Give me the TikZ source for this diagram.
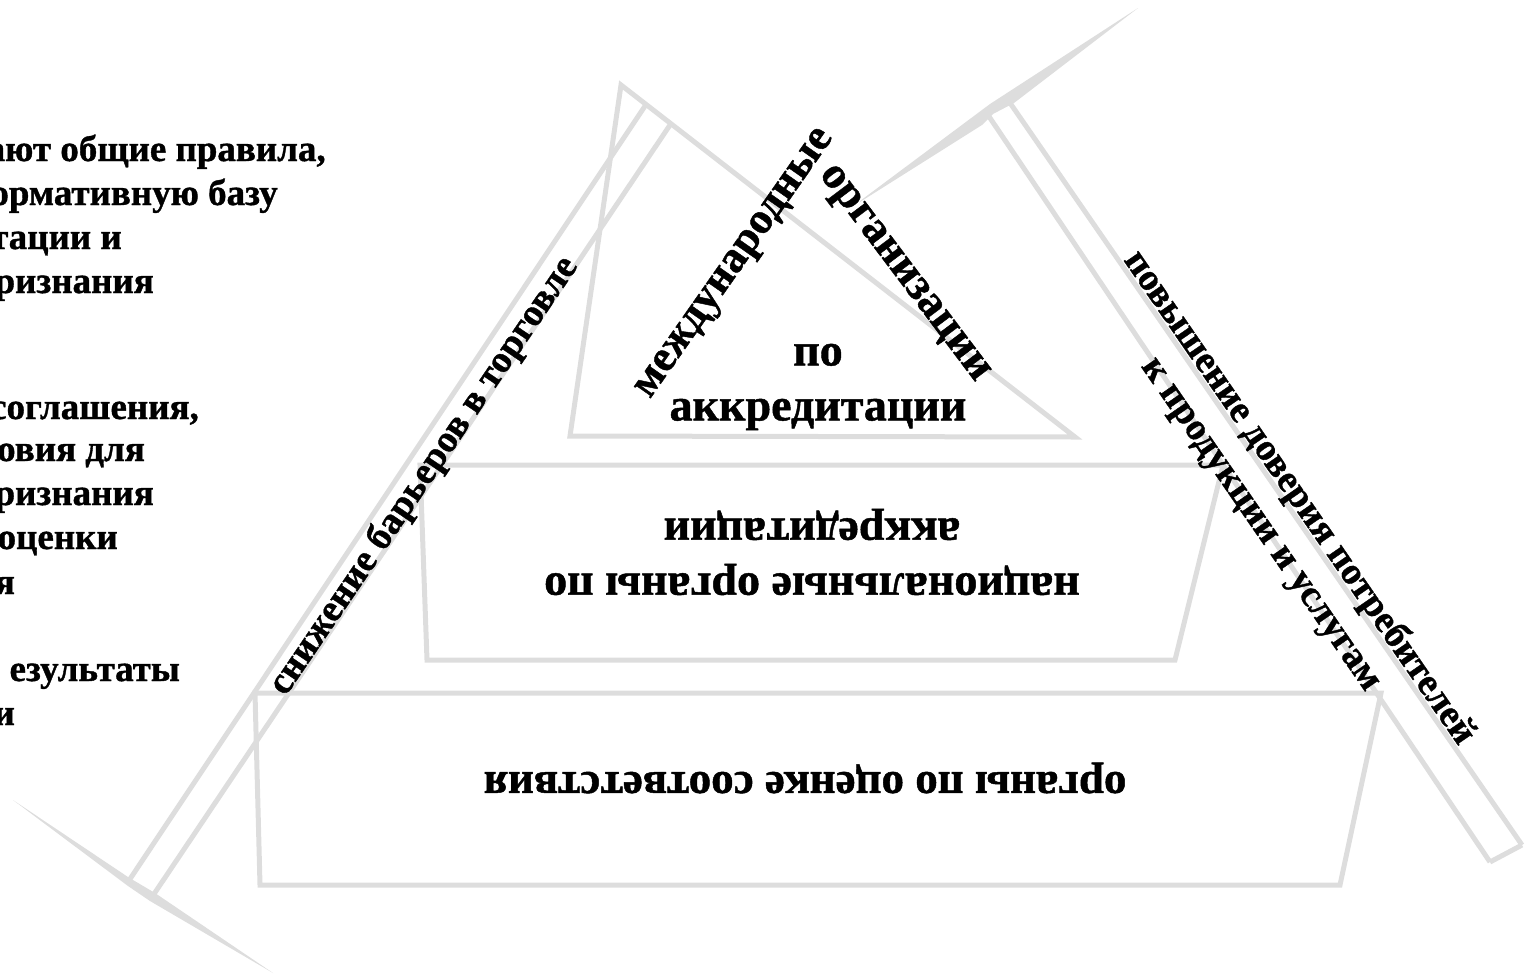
\documentclass[tikz,border=0pt]{standalone}
\usepackage{fontspec}
\setmainfont[BoldFeatures={FakeBold=1}]{Liberation Serif}
\definecolor{linegray}{HTML}{DDDDDD}
\tikzset{
  band/.style={draw=linegray, line width=5pt, line join=miter},
  wedge/.style={fill=linegray, draw=none},
  biglbl/.style={font=\bfseries\fontsize{46}{55}\selectfont, align=center, inner sep=0pt},
  bandtxt/.style={font=\bfseries\fontsize{38}{46}\selectfont, align=center, inner sep=0pt},
  sidetxt/.style={font=\bfseries\fontsize{37}{44}\selectfont, inner sep=0pt, anchor=base east}
}
\begin{document}
\begin{tikzpicture}[x=1pt,y=-1pt]
\useasboundingbox (0,0) rectangle (1529,975);
\clip (0,0) rectangle (1529,975);

% pyramid layers
\draw[band] (255,693) -- (1381,693) -- (1340,885) -- (260,885) -- cycle;
\draw[band] (420,465) -- (1223,465) -- (1175,660) -- (427,660) -- cycle;
\draw[band] (621,85) -- (1075,437) -- (570,436) -- cycle;

% left band
\draw[band] (645,106) -- (128,882);
\draw[band] (670,125) -- (152,897);
\fill[wedge] (13,800) -- (128,877) -- (155,893) -- (273,973) -- (150,901) -- (128,886) -- cycle;

% right band
\draw[band] (986,112) -- (1490,862);
\draw[band] (1008,100) -- (1522,845);
\draw[band] (1490,862) -- (1522,845);
\fill[wedge] (860,201) -- (990,104) -- (1138,8) -- (1014,103) -- (993,114) -- (982,125) -- (860,202) -- cycle;

% labels in layers
\node[biglbl] (top) at (818,387) {по\\аккредитации};
\node[biglbl, rotate=180] (mid) at (812,552) {национальные органы по\\аккредитации};
\node[biglbl, font=\bfseries\fontsize{45}{54}\selectfont, rotate=180] (bot) at (805,778) {органы по оценке соответствия};
\node[biglbl, font=\bfseries\fontsize{44}{54}\selectfont, rotate=55] (intl) at (737,265) {международные};
\node[biglbl, font=\bfseries\fontsize{45}{54}\selectfont, rotate=-53] (org) at (902,275) {организации};

% band labels
\node[bandtxt, rotate=55.8] (barr) at (424,476) {снижение барьеров в торговле};
\node[bandtxt, rotate=-55.4] (trust) at (1280,511) {повышение доверия потребителей\\к продукции и услугам};

% left side text (cropped by the picture edge)
\node[sidetxt] (l1) at (326,161) {ают общие правила,};
\node[sidetxt] (l2) at (278,205) {ормативную базу};
\node[sidetxt] (l3) at (122,249) {тации и};
\node[sidetxt] (l4) at (154,293) {ризнания};
\node[sidetxt] (l5) at (199,419) {соглашения,};
\node[sidetxt] (l6) at (145,461) {овия для};
\node[sidetxt] (l7) at (154,505) {ризнания};
\node[sidetxt] (l8) at (118,549) {оценки};
\node[sidetxt] (l9) at (15,594) {я};
\node[sidetxt] (l10) at (180,681) {езультаты};
\node[sidetxt] (l11) at (15,725) {и};
\end{tikzpicture}
\end{document}
